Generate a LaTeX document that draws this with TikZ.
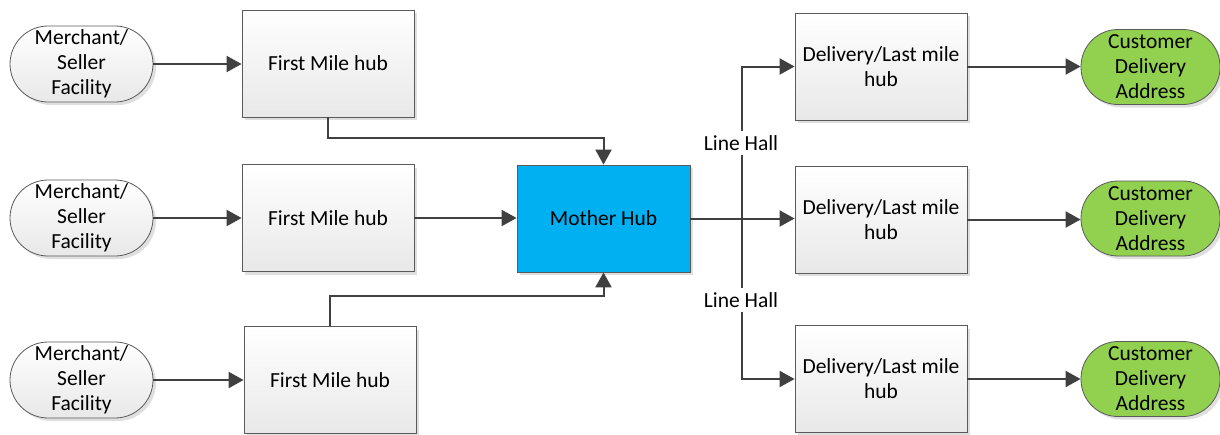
\documentclass[tikz,border=0pt]{standalone}
\usepackage{fontspec}
\setmainfont{Carlito}
\usetikzlibrary{arrows.meta,shadows,calc}
\definecolor{mhblue}{RGB}{0,176,240}
\definecolor{custgreen}{RGB}{146,208,80}
\definecolor{linegray}{RGB}{64,64,64}
\definecolor{bordergray}{RGB}{90,90,90}
\begin{document}
\begin{tikzpicture}[x=1pt,y=-1pt,
  every node/.style={font=\fontsize{21.5}{25}\selectfont, align=center, inner sep=0pt},
  hubbox/.style={draw=bordergray, line width=0.8pt, top color=white, bottom color=black!9,
     minimum width=172pt, minimum height=107pt,
     drop shadow={shadow xshift=3pt, shadow yshift=-3pt, opacity=0.25, fill=black!50}},
  mhbox/.style={draw=bordergray, line width=0.8pt, fill=mhblue,
     minimum width=173pt, minimum height=107pt,
     drop shadow={shadow xshift=3pt, shadow yshift=-3pt, opacity=0.25, fill=black!50}},
  merch/.style={draw=bordergray, line width=0.8pt, top color=white, bottom color=black!9,
     minimum width=143pt, minimum height=76pt, rounded corners=38pt,
     drop shadow={shadow xshift=3pt, shadow yshift=-3pt, opacity=0.25, fill=black!50}},
  cust/.style={draw=bordergray, line width=0.8pt, fill=custgreen,
     minimum width=139pt, minimum height=75pt, rounded corners=37pt,
     drop shadow={shadow xshift=3pt, shadow yshift=-3pt, opacity=0.25, fill=black!50}},
  conn/.style={draw=linegray, line width=2pt},
  arr/.style={conn, -{Triangle[length=15pt,width=16pt]}},
  lhlabel/.style={fill=white, inner xsep=2pt, inner ysep=4pt}
]
\useasboundingbox (0,0) rectangle (1220,434);

% Merchant facilities
\node[merch] (s1) at (81.5,64) {Merchant/\\Seller\\Facility};
\node[merch] (s2) at (81.5,218) {Merchant/\\Seller\\Facility};
\node[merch] (s3) at (81.5,380) {Merchant/\\Seller\\Facility};

% First mile hubs
\node[hubbox] (f1) at (328,63.5) {First Mile hub};
\node[hubbox] (f2) at (328,218) {First Mile hub};
\node[hubbox] (f3) at (330,380) {First Mile hub};

% Mother hub
\node[mhbox] (m) at (603.5,218.5) {Mother Hub};

% Delivery hubs
\node[hubbox] (d1) at (881,66.5) {Delivery/Last mile\\hub};
\node[hubbox] (d2) at (881,219.5) {Delivery/Last mile\\hub};
\node[hubbox] (d3) at (881,379) {Delivery/Last mile\\hub};

% Customers
\node[cust] (c1) at (1150.5,67) {Customer\\Delivery\\Address};
\node[cust] (c2) at (1150.5,218.5) {Customer\\Delivery\\Address};
\node[cust] (c3) at (1150.5,379) {Customer\\Delivery\\Address};

% connectors
\draw[arr] (s1.east) -- (s1.east -| f1.west);
\draw[arr] (s2.east) -- (s2.east -| f2.west);
\draw[arr] (s3.east) -- (s3.east -| f3.west);

\draw[arr] (f1.south) -- ++(0,21) -| (m.north);
\draw[arr] (f2.east) -- (f2.east -| m.west);
\draw[arr] (f3.north) -- ++(0,-30) -| (m.south);

\coordinate (lx) at (742,0);
\draw[conn, line cap=rect] (lx |- d1.west) -- (lx |- d3.west);
\draw[arr] (m.east) -- (m.east -| d2.west);
\draw[arr] (lx |- d1.west) -- (d1.west);
\draw[arr] (lx |- d3.west) -- (d3.west);
\node[lhlabel] (lh1) at (741,143) {Line Hall};
\node[lhlabel] (lh2) at (741,300) {Line Hall};

\draw[arr] (d1.east) -- (d1.east -| c1.west);
\draw[arr] (d2.east) -- (d2.east -| c2.west);
\draw[arr] (d3.east) -- (d3.east -| c3.west);
\end{tikzpicture}
\end{document}
